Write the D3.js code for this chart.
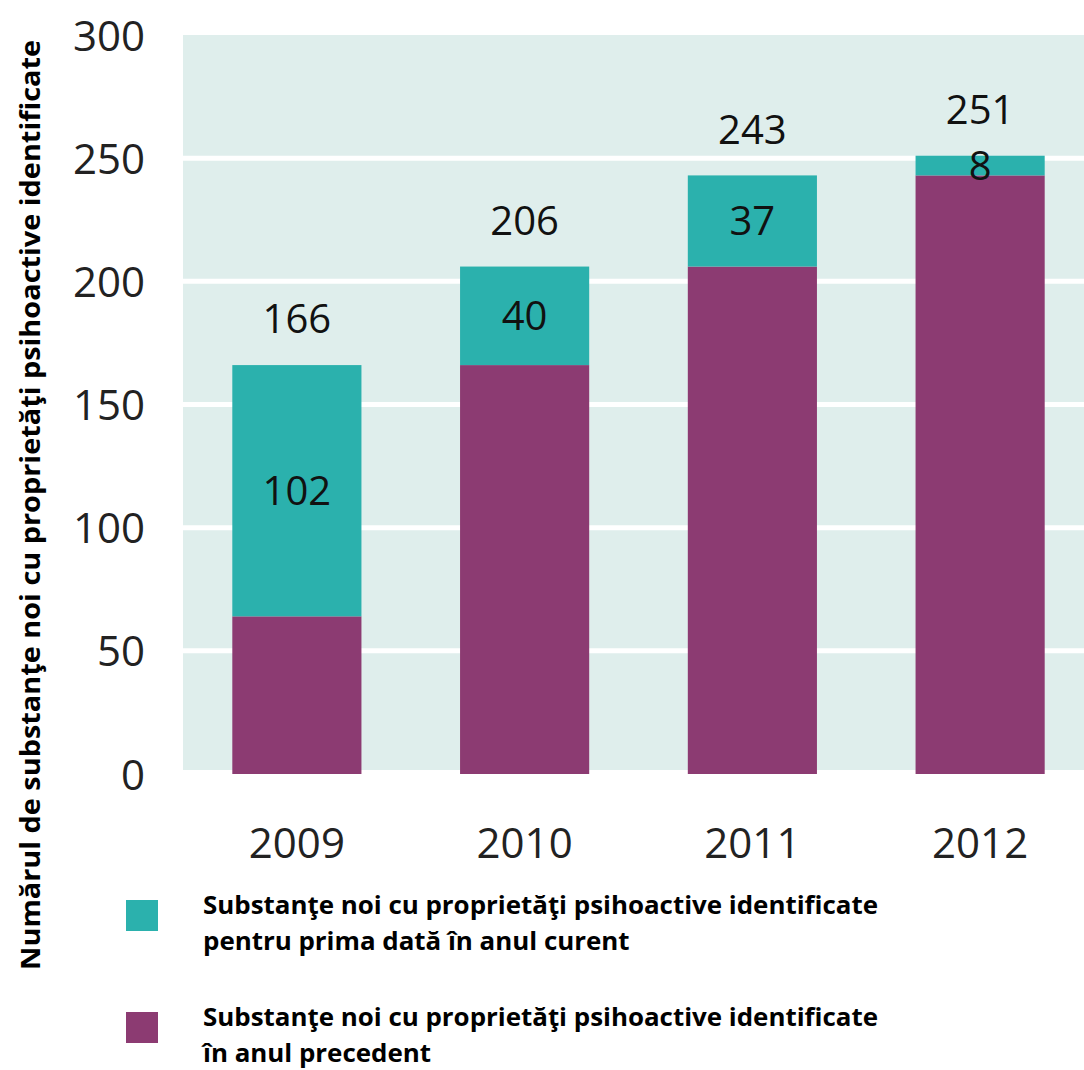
<!DOCTYPE html>
<html>
<head>
<meta charset="utf-8">
<script src="https://cdn.jsdelivr.net/npm/d3@7"></script>
<style>
  body { margin: 0; background: #fff; }
  svg text { font-family: "Open Sans", sans-serif; }
</style>
</head>
<body>
<div id="app"></div>
<script>
// date
const years = ['2009', '2010', '2011', '2012']
const previousYear = [64, 166, 206, 243]
const newThisYear = [102, 40, 37, 8]
const totals = [166, 206, 243, 251]
const yTicks = [0, 50, 100, 150, 200, 250, 300]
const legendLabels = [
  ['Substanţe noi cu proprietăţi psihoactive identificate', 'pentru prima dată în anul curent'],
  ['Substanţe noi cu proprietăţi psihoactive identificate', 'în anul precedent']
]
const yTitle = 'Numărul de substanţe noi cu proprietăţi psihoactive identificate'

const w = 1084
const h = 1070
const teal = '#2bb1ad'
const purple = '#8c3b72'

const svg = d3.select('#app')
  .append('svg')
  .attr('width', w)
  .attr('height', h)

const x = d3.scaleBand()
  .domain(years)
  .range([183, 1094])
  .paddingInner(0.433)
  .paddingOuter(0.2165)

const y = d3.scaleLinear()
  .domain([0, 300])
  .range([774, 35])

// fundal
svg.append('rect')
  .attr('x', 183)
  .attr('y', y(300))
  .attr('width', w - 183)
  .attr('height', y(0) - y(300) - 4)
  .attr('fill', '#dfeeec')

// grila
svg.append('g')
  .selectAll('line')
  .data(yTicks.filter(d => d > 0 && d < 300))
  .enter()
  .append('line')
  .attr('x1', 183)
  .attr('x2', w)
  .attr('y1', d => y(d))
  .attr('y2', d => y(d))
  .attr('stroke', '#fff')
  .attr('stroke-width', 5)

// axa y
const yAxis = d3.axisLeft(y)
  .tickValues(yTicks)
  .tickSize(0)
  .tickPadding(0)
svg.append('g')
  .attr('transform', 'translate(145,0)')
  .call(yAxis)
  .call(g => g.select('.domain').remove())
  .selectAll('text')
  .attr('font-size', 42)
  .attr('fill', '#222')
  .attr('dy', '0.36em')
  .style('font-family', '"Open Sans", sans-serif')

// axa x
const xAxis = d3.axisBottom(x).tickSize(0).tickPadding(0)
svg.append('g')
  .attr('transform', 'translate(0,843)')
  .call(xAxis)
  .call(g => g.select('.domain').remove())
  .selectAll('text')
  .attr('font-size', 42)
  .attr('fill', '#222')
  .attr('dy', '0.36em')
  .style('font-family', '"Open Sans", sans-serif')

// bare
const rows = years.map((yr, i) => ({
  year: yr, prev: previousYear[i], added: newThisYear[i], total: totals[i]
}))

svg.append('g')
  .selectAll('rect')
  .data(rows)
  .enter()
  .append('rect')
  .attr('x', d => x(d.year))
  .attr('y', d => y(d.prev))
  .attr('width', x.bandwidth())
  .attr('height', d => y(0) - y(d.prev))
  .attr('fill', purple)

svg.append('g')
  .selectAll('rect')
  .data(rows)
  .enter()
  .append('rect')
  .attr('x', d => x(d.year))
  .attr('y', d => y(d.prev + d.added))
  .attr('width', x.bandwidth())
  .attr('height', d => y(d.prev) - y(d.prev + d.added))
  .attr('fill', teal)

// etichete
svg.append('g')
  .selectAll('text')
  .data(rows)
  .enter()
  .append('text')
  .attr('x', d => x(d.year) + x.bandwidth() / 2)
  .attr('y', d => y(d.prev + d.added / 2))
  .attr('dy', '0.36em')
  .attr('text-anchor', 'middle')
  .attr('font-size', 40)
  .attr('fill', '#111')
  .text(d => d.added)

svg.append('g')
  .selectAll('text')
  .data(rows)
  .enter()
  .append('text')
  .attr('x', d => x(d.year) + x.bandwidth() / 2)
  .attr('y', d => y(d.total) - 46)
  .attr('dy', '0.36em')
  .attr('text-anchor', 'middle')
  .attr('font-size', 40)
  .attr('fill', '#111')
  .text(d => d.total)

// titlu y
svg.append('text')
  .attr('transform', 'translate(31,505) rotate(-90)')
  .attr('text-anchor', 'middle')
  .attr('dy', '0.36em')
  .attr('font-size', 26)
  .attr('font-weight', 'bold')
  .attr('fill', '#000')
  .attr('textLength', 930)
  .attr('lengthAdjust', 'spacingAndGlyphs')
  .text(yTitle)

// legenda
const legend = svg.append('g')
const legendY = [900, 1012]
const legendColors = [teal, purple]
legendLabels.forEach((lines, i) => {
  legend.append('rect')
    .attr('x', 126)
    .attr('y', legendY[i])
    .attr('width', 32)
    .attr('height', 31)
    .attr('fill', legendColors[i])
  const texts = lines.map((t, j) => legend.append('text')
    .attr('x', 203)
    .attr('y', legendY[i] + 5 + j * 36)
    .attr('dy', '0.36em')
    .attr('font-size', 25)
    .attr('font-weight', 'bold')
    .attr('fill', '#000')
    .text(t))
  // aceeasi compresie pe ambele randuri
  const k = 675 / texts[0].node().getComputedTextLength()
  texts.forEach(tx => {
    tx.attr('textLength', tx.node().getComputedTextLength() * k)
      .attr('lengthAdjust', 'spacingAndGlyphs')
  })
})
</script>
</body>
</html>
